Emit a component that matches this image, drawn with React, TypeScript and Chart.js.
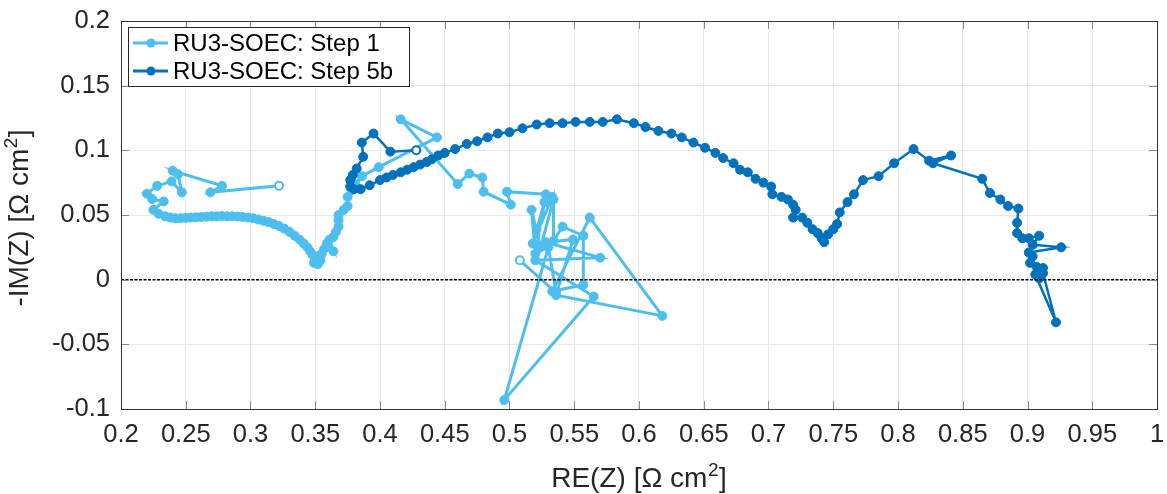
import React, { useEffect, useRef } from 'react';
import { Chart, registerables } from 'chart.js';
Chart.register(...registerables);

// ---------- data ----------
const step1Re = [
  0.322, 0.269, 0.278, 0.240, 0.244, 0.247, 0.239, 0.228, 0.220, 0.224, 0.233, 0.225, 0.229, 0.234,
  0.238, 0.242, 0.246, 0.250, 0.254, 0.258, 0.262, 0.266, 0.270, 0.274, 0.278, 0.282, 0.286, 0.290,
  0.294, 0.298, 0.302, 0.306, 0.310, 0.314, 0.318, 0.322, 0.326, 0.330, 0.334, 0.338, 0.341, 0.344,
  0.346, 0.348, 0.350, 0.349, 0.352, 0.354, 0.351, 0.355, 0.357, 0.359, 0.364, 0.361, 0.364, 0.366,
  0.368, 0.368, 0.368, 0.372, 0.375, 0.375, 0.378, 0.381, 0.386, 0.399, 0.444, 0.416, 0.460, 0.469,
  0.479, 0.480, 0.501, 0.498, 0.528, 0.533, 0.518, 0.527, 0.520, 0.517, 0.524, 0.534, 0.534, 0.541,
  0.557, 0.557, 0.533, 0.562, 0.618, 0.536, 0.549, 0.528, 0.570, 0.520, 0.565, 0.496, 0.530, 0.536,
  0.508,
];
const step1Im = [
  0.0726, 0.0675, 0.0726, 0.0842, 0.0815, 0.0675, 0.0760, 0.0726, 0.0665, 0.0624, 0.0605, 0.0540, 0.0510, 0.0490,
  0.0480, 0.0475, 0.0475, 0.0478, 0.0480, 0.0482, 0.0485, 0.0487, 0.0490, 0.0490, 0.0492, 0.0490, 0.0490, 0.0488,
  0.0485, 0.0480, 0.0475, 0.0465, 0.0455, 0.0445, 0.0430, 0.0415, 0.0395, 0.0370, 0.0340, 0.0310, 0.0280, 0.0250,
  0.0220, 0.0190, 0.0160, 0.0130, 0.0120, 0.0150, 0.0180, 0.0200, 0.0240, 0.0280, 0.0220, 0.0310, 0.0330, 0.0370,
  0.0410, 0.0460, 0.0500, 0.0540, 0.0570, 0.0640, 0.0690, 0.0740, 0.0800, 0.0870, 0.1100, 0.1240, 0.0740, 0.0820,
  0.0790, 0.0680, 0.0580, 0.0680, 0.0660, 0.0640, 0.0280, 0.0600, 0.0200, 0.0540, 0.0250, 0.0620, 0.0300, 0.0410,
  0.0340, -0.0040, -0.0090, 0.0480, -0.0280, -0.0120, 0.0310, 0.0290, 0.0170, 0.0150, -0.0130, -0.0930, 0.0250, -0.0100,
  0.0150,
];
const step1Hollow = [0, 98];

const step5bRe = [
  0.428, 0.408, 0.395, 0.386, 0.387, 0.382, 0.379, 0.377, 0.377, 0.380, 0.385, 0.392, 0.400, 0.405,
  0.410, 0.416, 0.421, 0.426, 0.431, 0.436, 0.440, 0.445, 0.450, 0.458, 0.467, 0.475, 0.483, 0.491,
  0.500, 0.510, 0.521, 0.531, 0.541, 0.551, 0.562, 0.572, 0.583, 0.596, 0.605, 0.615, 0.625, 0.633,
  0.642, 0.651, 0.659, 0.665, 0.673, 0.678, 0.684, 0.690, 0.696, 0.702, 0.703, 0.710, 0.715, 0.719,
  0.721, 0.719, 0.726, 0.730, 0.734, 0.738, 0.741, 0.743, 0.746, 0.750, 0.753, 0.755, 0.761, 0.766,
  0.773, 0.785, 0.797, 0.812, 0.824, 0.841, 0.827, 0.865, 0.871, 0.879, 0.885, 0.893, 0.892, 0.892,
  0.896, 0.901, 0.909, 0.904, 0.926, 0.901, 0.904, 0.902, 0.907, 0.912, 0.906, 0.922, 0.912, 0.909,
];
const step5bIm = [
  0.100, 0.099, 0.113, 0.106, 0.095, 0.086, 0.081, 0.077, 0.072, 0.070, 0.070, 0.073, 0.077, 0.079,
  0.081, 0.083, 0.085, 0.087, 0.089, 0.091, 0.093, 0.096, 0.098, 0.101, 0.105, 0.107, 0.110, 0.113,
  0.114, 0.117, 0.120, 0.121, 0.121, 0.122, 0.122, 0.122, 0.124, 0.121, 0.118, 0.115, 0.113, 0.110,
  0.106, 0.102, 0.098, 0.094, 0.090, 0.085, 0.083, 0.078, 0.075, 0.072, 0.066, 0.064, 0.062, 0.058,
  0.054, 0.048, 0.048, 0.044, 0.039, 0.036, 0.032, 0.029, 0.035, 0.039, 0.043, 0.052, 0.060, 0.066,
  0.077, 0.080, 0.090, 0.101, 0.092, 0.096, 0.090, 0.078, 0.067, 0.062, 0.057, 0.055, 0.044, 0.036,
  0.032, 0.032, 0.034, 0.027, 0.025, 0.021, 0.018, 0.013, 0.010, 0.009, 0.004, -0.033, 0.005, 0.001,
];
const step5bHollow = [0];

const seriesNames = ['RU3-SOEC: Step 1', 'RU3-SOEC: Step 5b'];
const seriesColors = ['#4DBEEE', '#0072BD'];

const xTickValues = [0.2, 0.25, 0.3, 0.35, 0.4, 0.45, 0.5, 0.55, 0.6, 0.65, 0.7, 0.75, 0.8, 0.85, 0.9, 0.95, 1];
const xTickLabels = ['0.2', '0.25', '0.3', '0.35', '0.4', '0.45', '0.5', '0.55', '0.6', '0.65', '0.7', '0.75', '0.8', '0.85', '0.9', '0.95', '1'];
const yTickValues = [-0.1, -0.05, 0, 0.05, 0.1, 0.15, 0.2];
const yTickLabels = ['-0.1', '-0.05', '0', '0.05', '0.1', '0.15', '0.2'];

// axis titles: [main text, superscript, closing text]
const xTitleParts = ['RE(Z) [Ω cm', '2', ']'];
const yTitleParts = ['-IM(Z) [Ω cm', '2', ']'];

const FONT = '"Liberation Sans", Arial, Helvetica, sans-serif';

function toPoints(re: number[], im: number[]) {
  return re.map((x, i) => ({ x, y: im[i] }));
}

function drawTitle(ctx: CanvasRenderingContext2D, parts: string[]) {
  // draws centered at origin (0,0) on the alphabetic baseline
  const big = `28px ${FONT}`;
  const small = `19px ${FONT}`;
  ctx.font = big;
  const w0 = ctx.measureText(parts[0]).width;
  const w2 = ctx.measureText(parts[2]).width;
  ctx.font = small;
  const w1 = ctx.measureText(parts[1]).width;
  const total = w0 + w1 + w2 + 1;
  let x = -total / 2;
  ctx.textAlign = 'left';
  ctx.textBaseline = 'alphabetic';
  ctx.font = big;
  ctx.fillText(parts[0], x, 0);
  x += w0 + 0.5;
  ctx.font = small;
  ctx.fillText(parts[1], x, -11);
  x += w1 + 0.5;
  ctx.font = big;
  ctx.fillText(parts[2], x, 0);
}

const boxPlugin = {
  id: 'boxPlugin',
  afterDraw(chart: any) {
    const { ctx, chartArea: a, scales } = chart;
    ctx.save();
    // inner ticks
    ctx.strokeStyle = '#8a8a8a';
    ctx.lineWidth = 1;
    const tl = 8;
    xTickValues.forEach((v) => {
      const px = Math.round(scales.x.getPixelForValue(v)) + 0.5;
      ctx.beginPath();
      ctx.moveTo(px, a.bottom);
      ctx.lineTo(px, a.bottom - tl);
      ctx.moveTo(px, a.top);
      ctx.lineTo(px, a.top + tl);
      ctx.stroke();
    });
    yTickValues.forEach((v) => {
      const py = Math.round(scales.y.getPixelForValue(v)) + 0.5;
      ctx.beginPath();
      ctx.moveTo(a.left, py);
      ctx.lineTo(a.left + tl, py);
      ctx.moveTo(a.right, py);
      ctx.lineTo(a.right - tl, py);
      ctx.stroke();
    });
    // box
    ctx.strokeStyle = '#333333';
    ctx.lineWidth = 1;
    ctx.strokeRect(Math.round(a.left) + 0.5, Math.round(a.top) + 0.5, Math.round(a.right - a.left), Math.round(a.bottom - a.top));

    // axis titles
    ctx.fillStyle = '#262626';
    ctx.save();
    ctx.translate((a.left + a.right) / 2, 487);
    drawTitle(ctx, xTitleParts);
    ctx.restore();
    ctx.save();
    ctx.translate(28, (a.top + a.bottom) / 2 + 3);
    ctx.rotate(-Math.PI / 2);
    drawTitle(ctx, yTitleParts);
    ctx.restore();

    // legend
    const lx = 128.5, ly = 27.5, lw = 281, lh = 59;
    ctx.fillStyle = '#ffffff';
    ctx.fillRect(lx, ly, lw, lh);
    ctx.strokeStyle = '#262626';
    ctx.lineWidth = 1;
    ctx.strokeRect(lx, ly, lw, lh);
    seriesNames.forEach((name, i) => {
      const cy = 43 + i * 28;
      ctx.strokeStyle = seriesColors[i];
      ctx.lineWidth = 3;
      ctx.beginPath();
      ctx.moveTo(133, cy);
      ctx.lineTo(168, cy);
      ctx.stroke();
      ctx.fillStyle = seriesColors[i];
      ctx.beginPath();
      ctx.arc(151, cy, 4.5, 0, Math.PI * 2);
      ctx.fill();
      ctx.fillStyle = '#000000';
      ctx.font = `24px ${FONT}`;
      ctx.textBaseline = 'middle';
      ctx.textAlign = 'left';
      ctx.fillText(name, 173, cy + 1);
    });
    ctx.restore();
  },
};

function seriesDataset(label: string, re: number[], im: number[], hollow: number[], color: string, order: number, lw: number) {
  return {
    label,
    data: toPoints(re, im),
    showLine: true,
    borderColor: color,
    backgroundColor: color,
    borderWidth: lw,
    pointRadius: re.map((_, i) => (hollow.includes(i) ? 4 : 4.5)),
    pointBackgroundColor: re.map((_, i) => (hollow.includes(i) ? '#ffffff' : color)),
    pointBorderColor: color,
    pointBorderWidth: re.map((_, i) => (hollow.includes(i) ? 2 : 1)),
    pointHoverRadius: 4.5,
    order,
  };
}

export default function App() {
  const ref = useRef<HTMLCanvasElement | null>(null);

  useEffect(() => {
    if (!ref.current) return;
    const tickFont = { family: FONT, size: 25.5 };
    const chart = new Chart(ref.current, {
      type: 'scatter',
      data: {
        datasets: [
          {
            label: 'zero',
            data: [{ x: 0.2, y: 0 }, { x: 1, y: 0 }],
            showLine: true,
            borderColor: '#000000',
            borderWidth: 1.5,
            borderDash: [3, 1.5],
            pointRadius: 0,
            order: 0,
          } as any,
          seriesDataset(seriesNames[1], step5bRe, step5bIm, step5bHollow, seriesColors[1], 1, 2.5),
          seriesDataset(seriesNames[0], step1Re, step1Im, step1Hollow, seriesColors[0], 2, 3),
        ],
      },
      options: {
        animation: false,
        responsive: true,
        maintainAspectRatio: false,
        layout: { padding: { top: 21, right: 10, left: 0, bottom: 0 } },
        plugins: {
          legend: { display: false },
          tooltip: { enabled: false },
        },
        scales: {
          x: {
            type: 'linear',
            min: 0.2,
            max: 1,
            afterBuildTicks: (s: any) => {
              s.ticks = xTickValues.map((v) => ({ value: v }));
            },
            afterFit: (s: any) => {
              s.height = 85;
              s.paddingLeft = 0;
              s.paddingRight = 0;
            },
            ticks: {
              callback: (_v: any, i: number) => xTickLabels[i],
              font: tickFont,
              color: '#262626',
              padding: 11,
              maxRotation: 0,
              autoSkip: false,
            },
            grid: { color: '#e8e8e8', drawTicks: false, lineWidth: 1 },
            border: { display: false },
          },
          y: {
            type: 'linear',
            min: -0.1,
            max: 0.2,
            afterBuildTicks: (s: any) => {
              s.ticks = yTickValues.map((v) => ({ value: v }));
            },
            afterFit: (s: any) => {
              s.width = 121;
              s.paddingTop = 0;
              s.paddingBottom = 0;
            },
            ticks: {
              callback: (_v: any, i: number) => yTickLabels[i],
              font: tickFont,
              color: '#262626',
              padding: 11,
              autoSkip: false,
            },
            grid: { color: '#e8e8e8', drawTicks: false, lineWidth: 1 },
            border: { display: false },
          },
        },
      } as any,
      plugins: [boxPlugin],
    });
    return () => chart.destroy();
  }, []);

  return (
    <div style={{ position: 'fixed', left: 0, top: 0, width: 1167, height: 494, background: '#ffffff' }}>
      <canvas ref={ref} />
    </div>
  );
}
